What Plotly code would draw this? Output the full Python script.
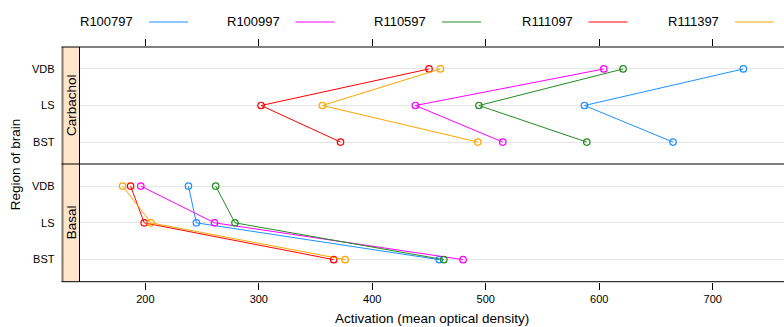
import plotly.graph_objects as go

# ---- data ----
series = ["R100797", "R100997", "R110597", "R111097", "R111397"]
colors = ["#1E90FF", "#FF00FF", "#228B22", "#FF0000", "#FFA500"]
regions = ["VDB", "LS", "BST"]
panels = ["Carbachol", "Basal"]

carbachol = {
    "R100797": [727, 587, 665],
    "R100997": [604, 438, 515],
    "R110597": [621, 494, 589],
    "R111097": [450, 302, 372],
    "R111397": [460, 356, 493],
}
basal = {
    "R100797": [238, 245, 459],
    "R100997": [196, 261, 480],
    "R110597": [262, 279, 463],
    "R111097": [187, 199, 366],
    "R111397": [180, 205, 376],
}
xticks = [200, 300, 400, 500, 600, 700]

W, H = 784, 327
def px(x): return x / W
def py(y): return 1 - y / H

TOP, MID, BOT = 47.0, 164.0, 281.7
LEFT_STRIP, LEFT_PANEL, RIGHT = 62.5, 79.5, 784

ypos = {"VDB": 3, "LS": 2, "BST": 1}

fig = go.Figure()
for data, xa, ya in [(carbachol, "x2", "y2"), (basal, "x", "y")]:
    for s, c in zip(series, colors):
        fig.add_trace(go.Scatter(
            x=data[s], y=[ypos[r] for r in regions],
            mode="lines+markers", xaxis=xa, yaxis=ya,
            line=dict(color=c, width=1),
            marker=dict(symbol="circle-open", size=6.5, color=c, line=dict(width=1.2, color=c)),
            showlegend=False, hoverinfo="skip"))

font = "Liberation Sans, Arial, sans-serif"
xrange = [142.0, 762.8]
common_y = dict(range=[0.4, 3.6], tickvals=[1, 2, 3], ticktext=["BST", "LS", "VDB"],
                showgrid=True, gridcolor="#E6E6E6", gridwidth=1, zeroline=False,
                ticks="", showline=False, ticklabelstandoff=24,
                tickfont=dict(family=font, size=11, color="#000"))

fig.update_layout(
    width=W, height=H, margin=dict(l=0, r=0, t=0, b=0),
    paper_bgcolor="white", plot_bgcolor="white",
    font=dict(family=font, color="#000"),
    xaxis=dict(domain=[px(LEFT_PANEL), 1], range=xrange, anchor="y", tickvals=xticks,
               ticks="outside", ticklen=7, tickcolor="#000", showgrid=False, zeroline=False,
               showline=False, tickfont=dict(family=font, size=11, color="#000")),
    xaxis2=dict(domain=[px(LEFT_PANEL), 1], range=xrange, anchor="y2", side="top", tickvals=xticks,
                ticks="outside", ticklen=7, tickcolor="#000", showticklabels=False,
                showgrid=False, zeroline=False, showline=False),
    yaxis=dict(domain=[py(BOT), py(MID)], anchor="x", **common_y),
    yaxis2=dict(domain=[py(MID), py(TOP)], anchor="x2", **common_y),
)

shapes = []
# strips
for y0, y1 in [(TOP, MID), (MID, BOT)]:
    shapes.append(dict(type="rect", xref="paper", yref="paper", x0=px(LEFT_STRIP), x1=px(LEFT_PANEL),
                       y0=py(y1), y1=py(y0), fillcolor="#FFE5CC", line=dict(width=0), layer="below"))
shapes.append(dict(type="line", xref="paper", yref="paper", x0=px(LEFT_STRIP), x1=px(LEFT_STRIP),
                   y0=py(BOT), y1=py(TOP), line=dict(color="#857A70", width=2)))
shapes.append(dict(type="line", xref="paper", yref="paper", x0=px(LEFT_PANEL), x1=px(LEFT_PANEL),
                   y0=py(BOT), y1=py(TOP), line=dict(color="#000", width=1)))
for yy in [TOP, MID, BOT]:
    shapes.append(dict(type="line", xref="paper", yref="paper", x0=px(LEFT_STRIP - 1), x1=1,
                       y0=py(yy), y1=py(yy), line=dict(color="#000", width=1)))

annotations = []
# legend (text then line segment)
for i, (s, c) in enumerate(zip(series, colors)):
    x0 = 135 + i * 146.5
    annotations.append(dict(x=px(x0), y=py(22), xref="paper", yref="paper", text=s, showarrow=False,
                            xanchor="right", yanchor="middle", font=dict(family=font, size=13, color="#000")))
    shapes.append(dict(type="line", xref="paper", yref="paper", x0=px(x0 + 14), x1=px(x0 + 53),
                       y0=py(22), y1=py(22), line=dict(color=c, width=1)))
# strip labels
for name, (y0, y1) in zip(panels, [(TOP, MID), (MID, BOT)]):
    annotations.append(dict(x=px((LEFT_STRIP + LEFT_PANEL) / 2 + 0.5), y=py((y0 + y1) / 2), xref="paper", yref="paper",
                            text=name, textangle=-90, showarrow=False, xanchor="center", yanchor="middle",
                            font=dict(family=font, size=13.5, color="#000")))
# axis titles
annotations.append(dict(x=px(432), y=py(318), xref="paper", yref="paper", text="Activation (mean optical density)",
                        showarrow=False, xanchor="center", yanchor="middle", font=dict(family=font, size=13.5, color="#000")))
annotations.append(dict(x=px(15), y=py((TOP + BOT) / 2), xref="paper", yref="paper", text="Region of brain",
                        textangle=-90, showarrow=False, xanchor="center", yanchor="middle",
                        font=dict(family=font, size=13.5, color="#000")))

fig.update_layout(shapes=shapes, annotations=annotations)
fig.write_html("out.html")
